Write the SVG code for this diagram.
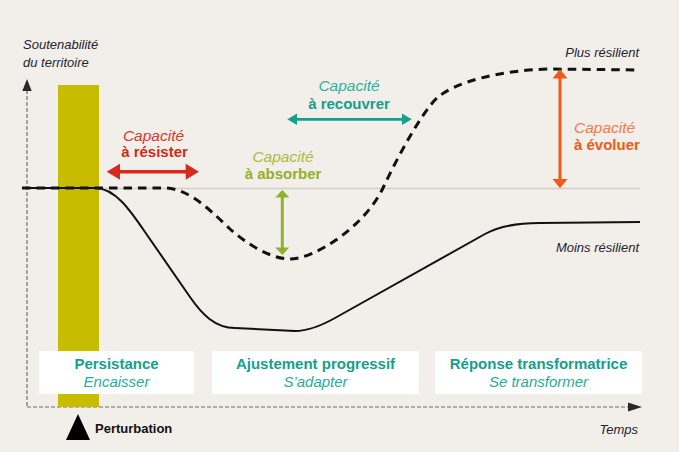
<svg xmlns="http://www.w3.org/2000/svg" width="679" height="452" viewBox="0 0 679 452">
<style>
.it{font-family:"Liberation Sans",Arial,sans-serif;font-style:italic}
.bd{font-family:"Liberation Sans",Arial,sans-serif;font-weight:bold}
.lab{fill:#222530;font-size:13px}
.axis{stroke:#6e6e6e;stroke-width:1.2;stroke-dasharray:4 2;fill:none}
.box{fill:#ffffff}
.ttl{fill:#14a08c;font-size:15px}
.sub{fill:#27ad9c;font-size:15px}
.cap{font-size:15.5px}
.act{font-size:15px}
</style>
<rect width="679" height="452" fill="#f2eee9"/>
<g id="axes">
<line class="axis" x1="27" y1="90" x2="27" y2="407"/>
<line class="axis" x1="27" y1="407" x2="629" y2="407"/>
<polygon points="27,79 22.3,91 31.7,91" fill="#2a2a2a"/>
<polygon points="642,407 628,402.5 628,411.5" fill="#2a2a2a"/>
<line x1="27" y1="188.5" x2="640" y2="188.5" stroke="#d2cdc8" stroke-width="1.3"/>
<text class="it lab" x="23" y="49" font-size="13.5">Soutenabilité</text>
<text class="it lab" x="23" y="67" font-size="13.5">du territoire</text>
<text class="it lab" x="638" y="434" text-anchor="end">Temps</text>
<text class="it lab" x="639" y="57" text-anchor="end">Plus résilient</text>
<text class="it lab" x="639" y="252" text-anchor="end">Moins résilient</text>
</g>
<g id="perturbation">
<rect x="58" y="85" width="41" height="322" fill="#c8bc00"/>
<polygon points="66,440 90,440 78,414" fill="#000"/>
<text class="bd" x="95" y="433" font-size="13" fill="#111">Perturbation</text>
</g>
<g id="phase-persistance">
<rect class="box" x="39" y="351" width="155" height="43"/>
<text class="bd ttl" x="116.5" y="369" text-anchor="middle">Persistance</text>
<text class="it sub" x="116.5" y="387" text-anchor="middle">Encaisser</text>
</g>
<g id="phase-ajustement">
<rect class="box" x="212" y="351" width="207" height="43"/>
<text class="bd ttl" x="315.5" y="369" text-anchor="middle">Ajustement progressif</text>
<text class="it sub" x="315.5" y="387" text-anchor="middle">S’adapter</text>
</g>
<g id="phase-transformation">
<rect class="box" x="435" y="351" width="207" height="43"/>
<text class="bd ttl" x="538.5" y="369" text-anchor="middle">Réponse transformatrice</text>
<text class="it sub" x="538.5" y="387" text-anchor="middle">Se transformer</text>
</g>
<g id="connectors" fill="none">
<path d="M22,188 L95,188 C115,188 130,210 145,232 L190,297 C202,314.3 215,328 235,328 L295,331 C310,331 323,324.7 335,318 L485,234 C497,227.3 515,223 540,223 L640,222" stroke="#111" stroke-width="2"/>
<path d="M22,188 L165,188 C190,188 215,215 230,229 C245,242.5 270,259 290,259 C315,259 365,226 383,188 C398,156 423,110.6 437,98 C455,82 500,70 550,69 L640,70" stroke="#111" stroke-width="3" stroke-dasharray="8.5 6"/>
</g>
<g id="capacite-resister">
<line x1="118" y1="171.7" x2="188" y2="171.7" stroke="#d52b1e" stroke-width="3.5"/>
<polygon points="106.7,171.7 120,163.7 120,179.7" fill="#d52b1e"/>
<polygon points="199,171.7 185.7,163.7 185.7,179.7" fill="#d52b1e"/>
<text class="it cap" x="153.5" y="141" text-anchor="middle" fill="#d9392c">Capacité</text>
<text class="bd act" x="154.5" y="157" text-anchor="middle" fill="#d12a1b">à résister</text>
</g>
<g id="capacite-recouvrer">
<line x1="295" y1="119.3" x2="404" y2="119.3" stroke="#14a08c" stroke-width="2.8"/>
<polygon points="287.3,119.3 297,113.5 297,125.1" fill="#14a08c"/>
<polygon points="411.7,119.3 402,113.5 402,125.1" fill="#14a08c"/>
<text class="it cap" x="349" y="91" text-anchor="middle" fill="#2db2a1">Capacité</text>
<text class="bd act" x="349" y="108.5" text-anchor="middle" fill="#14a08c">à recouvrer</text>
</g>
<g id="capacite-absorber">
<line x1="282.3" y1="196" x2="282.3" y2="249" stroke="#8fb22a" stroke-width="3"/>
<polygon points="282.3,190 275.3,197.5 289.3,197.5" fill="#8fb22a"/>
<polygon points="282.3,255 275.3,247.5 289.3,247.5" fill="#8fb22a"/>
<text class="it cap" x="283" y="162" text-anchor="middle" fill="#a5bf3e">Capacité</text>
<text class="bd act" x="283" y="179" text-anchor="middle" fill="#8fb22a">à absorber</text>
</g>
<g id="capacite-evoluer">
<line x1="560" y1="77" x2="560" y2="181" stroke="#f05a16" stroke-width="3"/>
<polygon points="560,69.3 552.5,78.5 567.5,78.5" fill="#f05a16"/>
<polygon points="560,188.3 552.5,179 567.5,179" fill="#f05a16"/>
<text class="it cap" x="574" y="132.5" fill="#f47a4a">Capacité</text>
<text class="bd act" x="574" y="150" fill="#f05a16">à évoluer</text>
</g>
</svg>
